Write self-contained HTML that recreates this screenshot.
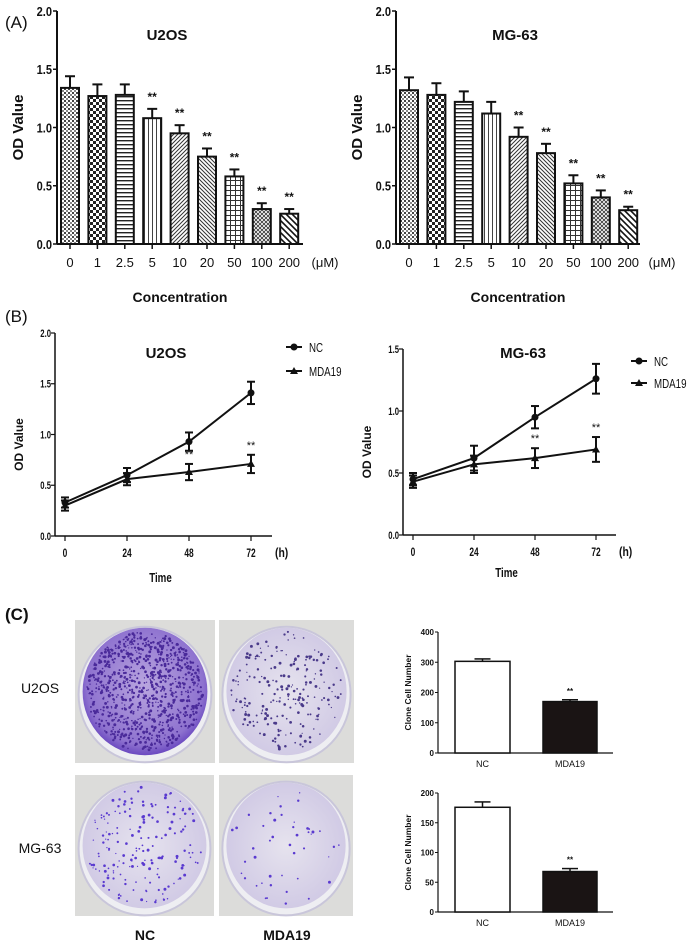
<!DOCTYPE html>
<html><head><meta charset="utf-8"><style>
body{margin:0;background:#fff;width:693px;height:945px;overflow:hidden;font-family:"Liberation Sans",Arial,sans-serif}
svg{position:absolute;left:0;top:0}
</style></head><body>
<svg id="fig" width="693" height="945" viewBox="0 0 693 945">
<defs>
<pattern id="p0" width="4" height="4" patternUnits="userSpaceOnUse"><rect width="4" height="4" fill="#fff"/><rect width="2" height="2" fill="#444"/><rect x="2" y="2" width="2" height="2" fill="#888"/></pattern>
<pattern id="p1" width="6" height="6" patternUnits="userSpaceOnUse"><rect width="6" height="6" fill="#fff"/><rect width="3" height="3" fill="#222"/><rect x="3" y="3" width="3" height="3" fill="#222"/></pattern>
<pattern id="p2" width="4" height="4" patternUnits="userSpaceOnUse"><rect width="4" height="4" fill="#fff"/><rect y="0" width="4" height="1.4" fill="#222"/></pattern>
<pattern id="p3" width="4" height="4" patternUnits="userSpaceOnUse"><rect width="4" height="4" fill="#fff"/><rect x="0" width="1" height="4" fill="#444"/></pattern>
<pattern id="p4" width="4" height="4" patternUnits="userSpaceOnUse"><rect width="4" height="4" fill="#fff"/><path d="M0,4 L4,0 M-1,1 L1,-1 M3,5 L5,3" stroke="#333" stroke-width="1"/></pattern>
<pattern id="p5" width="4" height="4" patternUnits="userSpaceOnUse"><rect width="4" height="4" fill="#fff"/><path d="M0,0 L4,4 M-1,3 L1,5 M3,-1 L5,1" stroke="#333" stroke-width="1"/></pattern>
<pattern id="p6" width="5" height="5" patternUnits="userSpaceOnUse"><rect width="5" height="5" fill="#fff"/><rect width="5" height="1" fill="#333"/><rect width="1" height="5" fill="#333"/></pattern>
<pattern id="p7" width="4" height="4" patternUnits="userSpaceOnUse"><rect width="4" height="4" fill="#fff"/><path d="M0,4 L4,0 M0,0 L4,4" stroke="#333" stroke-width="0.8"/></pattern>
<pattern id="p8" width="6" height="6" patternUnits="userSpaceOnUse"><rect width="6" height="6" fill="#fff"/><path d="M0,0 L6,6 M-1,5 L1,7 M5,-1 L7,1" stroke="#111" stroke-width="1.6"/></pattern>
<radialGradient id="dishA" cx="50%" cy="45%" r="55%"><stop offset="0" stop-color="#b9a6df"/><stop offset="0.85" stop-color="#8e72cf"/><stop offset="1" stop-color="#6a48c0"/></radialGradient>
<radialGradient id="dishB" cx="50%" cy="50%" r="55%"><stop offset="0" stop-color="#e6e3ee"/><stop offset="1" stop-color="#cfc8e4"/></radialGradient>
</defs>
<g id="root"></g>
</svg>
<script>
// ---- Panel A data ----
const concLabels = ["0","1","2.5","5","10","20","50","100","200"];
const u2osOD = [1.34,1.27,1.28,1.08,0.95,0.75,0.58,0.30,0.26];
const u2osErr = [0.10,0.10,0.09,0.08,0.07,0.07,0.06,0.05,0.04];
const u2osStars = [0,0,0,1,1,1,1,1,1];
const mgOD = [1.32,1.28,1.22,1.12,0.92,0.78,0.52,0.40,0.29];
const mgErr = [0.11,0.10,0.09,0.10,0.08,0.08,0.07,0.06,0.03];
const mgStars = [0,0,0,0,1,1,1,1,1];
const odTicksA = [0,0.5,1.0,1.5,2.0];
// ---- Panel B data ----
const timeLabels = ["0","24","48","72"];
const timeVals = [0,24,48,72];
const u2osNC = [0.33,0.60,0.93,1.41];
const u2osNCErr = [0.05,0.07,0.09,0.11];
const u2osMDA = [0.30,0.56,0.63,0.71];
const u2osMDAErr = [0.05,0.06,0.08,0.09];
const u2osBStars = [0,0,1,1];
const mgNC = [0.45,0.62,0.95,1.26];
const mgNCErr = [0.05,0.10,0.09,0.12];
const mgMDA = [0.43,0.57,0.62,0.69];
const mgMDAErr = [0.05,0.07,0.08,0.10];
const mgBStars = [0,0,1,1];
const odTicksB1 = [0,0.5,1.0,1.5,2.0];
const odTicksB2 = [0,0.5,1.0,1.5];
// ---- Panel C data ----
const groupLabels = ["NC","MDA19"];
const cloneU2os = [303,170];
const cloneU2osErr = [8,6];
const cloneMg = [176,68];
const cloneMgErr = [9,5];
const cloneTicks1 = [0,100,200,300,400];
const cloneTicks2 = [0,50,100,150,200];

const NS="http://www.w3.org/2000/svg";
const root=document.getElementById('root');
function mk(tag,attrs,parent,name){const e=document.createElementNS(NS,tag);for(const k in attrs)e.setAttribute(k,attrs[k]);(parent||root).appendChild(e);


return e;}
function txt(x,y,s,size,opt,name,parent){opt=opt||{};const t=mk('text',Object.assign({x:x,y:y,'font-size':size,'font-family':'"Liberation Sans",Arial,sans-serif','text-anchor':opt.anchor||'middle','font-weight':opt.bold?'bold':'normal',fill:'#111'},opt.extra||{}),parent,name);t.textContent=s;return t;}
function grp(name){const g=mk('g',{},root,name);return g;}

// Panel A bar chart
function barChartA(name,ax,x0,x1,y0,yTop,vals,errs,stars,title,titleX){
  const g=grp(name);
  const ys=v=>y0-(v/2.0)*(y0-yTop);
  const bw=27.4, bx=i=>x0+13+i*bw;
  mk('line',{x1:ax,y1:yTop,x2:ax,y2:y0,stroke:'#111','stroke-width':2},g,'y-axis');
  mk('line',{x1:ax,y1:y0,x2:x1,y2:y0,stroke:'#111','stroke-width':2},g,'x-axis');
  odTicksA.forEach(t=>{mk('line',{x1:ax-4,y1:ys(t),x2:ax,y2:ys(t),stroke:'#111','stroke-width':1.5},g,'y-tick');
    txt(ax-5,ys(t)+5,t.toFixed(1),13,{anchor:'end',bold:true,extra:{'transform':`translate(${ax-5},0) scale(0.85,1) translate(${-(ax-5)},0)`}},'y-tick-label',g);});
  vals.forEach((v,i)=>{const cx=bx(i);
    mk('line',{x1:cx,y1:ys(v),x2:cx,y2:ys(v+errs[i]),stroke:'#111','stroke-width':2},g,'error-bar');
    mk('line',{x1:cx-5,y1:ys(v+errs[i]),x2:cx+5,y2:ys(v+errs[i]),stroke:'#111','stroke-width':2},g,'error-cap');
    mk('rect',{x:cx-9,y:ys(v),width:18,height:y0-ys(v),fill:`url(#p${i})`,stroke:'#111','stroke-width':2},g,'bar-'+concLabels[i]);
    mk('line',{x1:cx,y1:y0,x2:cx,y2:y0+5,stroke:'#111','stroke-width':1.5},g,'x-tick');
    txt(cx,y0+23,concLabels[i],13,{},'x-tick-label',g);
    if(stars[i])txt(cx,ys(v+errs[i])-8,'**',12,{bold:true},'significance-mark',g);
  });
  txt(x1+22,y0+23,'(μM)',13,{},'unit-label',g);
  txt(titleX,40,title,15,{bold:true},'chart-title',g);
  txt(0,0,'OD Value',15,{bold:true,extra:{transform:`translate(${ax-34},${(y0+yTop)/2}) rotate(-90)`}},'y-axis-title',g);
  txt((ax+x1)/2,302,'Concentration',14,{bold:true},'x-axis-title',g);
}
barChartA('chart-a-u2os',57,57,303,244,11,u2osOD,u2osErr,u2osStars,'U2OS',167);
barChartA('chart-a-mg63',396,396,640,244,11,mgOD,mgErr,mgStars,'MG-63',515);

// Panel B line charts
function lineChart(name,ax,x1,y0,yTop,yMax,ticks,xs0,xs1,nc,ncE,md,mdE,stars,title,titleX,titleY,legX,legY1,legY2,timeY){
  const g=grp(name);
  const ys=v=>y0-(v/yMax)*(y0-yTop);
  const xs=t=>xs0+(t/72)*(xs1-xs0);
  mk('line',{x1:ax,y1:yTop,x2:ax,y2:y0,stroke:'#111','stroke-width':1.5},g,'y-axis');
  mk('line',{x1:ax,y1:y0,x2:x1,y2:y0,stroke:'#111','stroke-width':1.5},g,'x-axis');
  ticks.forEach(t=>{mk('line',{x1:ax-4,y1:ys(t),x2:ax,y2:ys(t),stroke:'#111','stroke-width':1.2},g,'y-tick');
    txt(ax-4,ys(t)+4,t.toFixed(1),11,{anchor:'end',bold:true,extra:{'transform':`translate(${ax-4},0) scale(0.7,1) translate(${-(ax-4)},0)`}},'y-tick-label',g);});
  timeVals.forEach((t,i)=>{mk('line',{x1:xs(t),y1:y0,x2:xs(t),y2:y0+5,stroke:'#111','stroke-width':1.2},g,'x-tick');
    txt(xs(t),y0+21,timeLabels[i],12,{bold:true,extra:{'transform':`translate(${xs(t)},0) scale(0.7,1) translate(${-xs(t)},0)`}},'x-tick-label',g);});
  txt(x1+3,y0+21,'(h)',13,{anchor:'start',bold:true,extra:{'transform':`translate(${x1+3},0) scale(0.8,1) translate(${-(x1+3)},0)`}},'unit-label',g);
  function series(vals,errs,marker,sname){
    let d='';vals.forEach((v,i)=>{d+=(i?'L':'M')+xs(timeVals[i])+','+ys(v);});
    mk('path',{d:d,fill:'none',stroke:'#111','stroke-width':2},g,sname+'-line');
    vals.forEach((v,i)=>{const x=xs(timeVals[i]);
      mk('line',{x1:x,y1:ys(v-errs[i]),x2:x,y2:ys(v+errs[i]),stroke:'#111','stroke-width':2},g,sname+'-error');
      mk('line',{x1:x-4,y1:ys(v+errs[i]),x2:x+4,y2:ys(v+errs[i]),stroke:'#111','stroke-width':2},g,sname+'-cap');
      mk('line',{x1:x-4,y1:ys(v-errs[i]),x2:x+4,y2:ys(v-errs[i]),stroke:'#111','stroke-width':2},g,sname+'-cap');
      if(marker==='c')mk('circle',{cx:x,cy:ys(v),r:3.5,fill:'#111'},g,sname+'-point');
      else mk('path',{d:`M${x-4},${ys(v)+3}L${x+4},${ys(v)+3}L${x},${ys(v)-4}Z`,fill:'#111'},g,sname+'-point');
    });
  }
  series(nc,ncE,'c','nc');
  series(md,mdE,'t','mda19');
  md.forEach((v,i)=>{if(stars[i])txt(xs(timeVals[i]),ys(v+mdE[i])-6,'**',11,{},'significance-mark',g);});
  txt(titleX,titleY,title,15,{bold:true},'chart-title',g);
  mk('line',{x1:legX-8,y1:legY1,x2:legX+8,y2:legY1,stroke:'#111','stroke-width':2},g,'legend-nc-line');
  mk('circle',{cx:legX,cy:legY1,r:3.5,fill:'#111'},g,'legend-nc-marker');
  txt(legX+15,legY1+5,'NC',13,{anchor:'start',extra:{'transform':`translate(${legX+15},0) scale(0.75,1) translate(${-(legX+15)},0)`}},'legend-nc-label',g);
  mk('line',{x1:legX-8,y1:legY2,x2:legX+8,y2:legY2,stroke:'#111','stroke-width':2},g,'legend-mda19-line');
  mk('path',{d:`M${legX-4},${legY2+3}L${legX+4},${legY2+3}L${legX},${legY2-4}Z`,fill:'#111'},g,'legend-mda19-marker');
  txt(legX+15,legY2+5,'MDA19',13,{anchor:'start',extra:{'transform':`translate(${legX+15},0) scale(0.75,1) translate(${-(legX+15)},0)`}},'legend-mda19-label',g);
  txt(0,0,'OD Value',12,{bold:true,extra:{transform:`translate(${ax-32},${(y0+yTop)/2+10}) rotate(-90)`}},'y-axis-title',g);
  txt((ax+x1)/2-3,timeY,'Time',13,{bold:true,extra:{'transform':`translate(${(ax+x1)/2-3},0) scale(0.75,1) translate(${-((ax+x1)/2-3)},0)`}},'x-axis-title',g);
}
lineChart('chart-b-u2os',55,272,536,333,2.0,odTicksB1,65,251,u2osNC,u2osNCErr,u2osMDA,u2osMDAErr,u2osBStars,'U2OS',166,358,294,347,371,582);
lineChart('chart-b-mg63',403,616,535,349,1.5,odTicksB2,413,596,mgNC,mgNCErr,mgMDA,mgMDAErr,mgBStars,'MG-63',523,358,639,361,383,577);

// Panel C bar charts
function cloneChart(name,ax,x1,y0,yTop,yMax,ticks,vals,errs,labY){
  const g=grp(name);
  const ys=v=>y0-(v/yMax)*(y0-yTop);
  const bars=[[455,510],[543,597]];
  mk('line',{x1:ax,y1:yTop,x2:ax,y2:y0,stroke:'#111','stroke-width':1.2},g,'y-axis');
  mk('line',{x1:ax,y1:y0,x2:x1,y2:y0,stroke:'#111','stroke-width':1.2},g,'x-axis');
  ticks.forEach(t=>{mk('line',{x1:ax-3,y1:ys(t),x2:ax,y2:ys(t),stroke:'#111'},g,'y-tick');
    txt(ax-4,ys(t)+3,String(t),8,{anchor:'end',bold:true},'y-tick-label',g);});
  vals.forEach((v,i)=>{const [a,b]=bars[i];const cx=(a+b)/2;
    mk('line',{x1:cx,y1:ys(v),x2:cx,y2:ys(v+errs[i]),stroke:'#111','stroke-width':1.5},g,'error-bar');
    mk('line',{x1:cx-8,y1:ys(v+errs[i]),x2:cx+8,y2:ys(v+errs[i]),stroke:'#111','stroke-width':1.5},g,'error-cap');
    mk('rect',{x:a,y:ys(v),width:b-a,height:y0-ys(v),fill:i?'#1a1414':'#fff',stroke:'#111','stroke-width':1.5},g,'bar-'+groupLabels[i]);
    txt(cx,labY,groupLabels[i],9,{},'x-tick-label',g);
    if(i===1)txt(cx,ys(v+errs[i])-6,'**',8,{bold:true},'significance-mark',g);
  });
  txt(0,0,'Clone Cell Number',8.5,{bold:true,extra:{transform:`translate(${ax-27},${(y0+yTop)/2}) rotate(-90)`}},'y-axis-title',g);
}
cloneChart('chart-c-u2os',438,613,753,632,400,cloneTicks1,cloneU2os,cloneU2osErr,767);
cloneChart('chart-c-mg63',438,613,912,793,200,cloneTicks2,cloneMg,cloneMgErr,926);

// Panel C photos (decorative)
let seed=7;function rnd(){seed=(seed*16807)%2147483647;return seed/2147483647;}
function dish(name,x,y,w,h,fillId,dots,dotColor){
  const g=grp(name);
  mk('rect',{x:x,y:y,width:w,height:h,fill:'#dcdcda'},g,'photo-background');
  const cx=x+w/2,cy=y+h/2,rx=w*0.46,ry=h*0.46;
  mk('ellipse',{cx:cx,cy:cy+3,rx:rx+2,ry:ry+2,fill:'#eeeef2',stroke:'#c9c6da','stroke-width':2},g,'dish-rim');
  mk('ellipse',{cx:cx,cy:cy,rx:rx-2,ry:ry-2,fill:`url(#${fillId})`},g,'dish-plate');
  for(let k=0;k<dots;k++){const a=rnd()*6.283,r=Math.sqrt(rnd())*0.95;
    const c=mk('circle',{cx:cx+Math.cos(a)*r*(rx-3),cy:cy+Math.sin(a)*r*(ry-3),r:0.6+rnd()*0.9,fill:dotColor},g,'colony');}
}
dish('photo-u2os-nc',75,620,140,143,'dishA',900,'#4a2a9a');
dish('photo-u2os-mda19',219,620,135,143,'dishB',220,'#4a3a8a');
dish('photo-mg63-nc',75,775,139,141,'dishB',180,'#5a3ad0');
dish('photo-mg63-mda19',219,775,134,141,'dishB',45,'#5a3ad0');

txt(5,28,'(A)',17,{anchor:'start'},'panel-label-a');
txt(5,322,'(B)',17,{anchor:'start'},'panel-label-b');
txt(5,620,'(C)',17,{anchor:'start',bold:true},'panel-label-c');
txt(40,693,'U2OS',14,{},'row-label-u2os');
txt(40,853,'MG-63',14,{},'row-label-mg63');
txt(145,940,'NC',14,{bold:true},'column-label-nc');
txt(287,940,'MDA19',14,{bold:true},'column-label-mda19');
</script>
</body></html>
